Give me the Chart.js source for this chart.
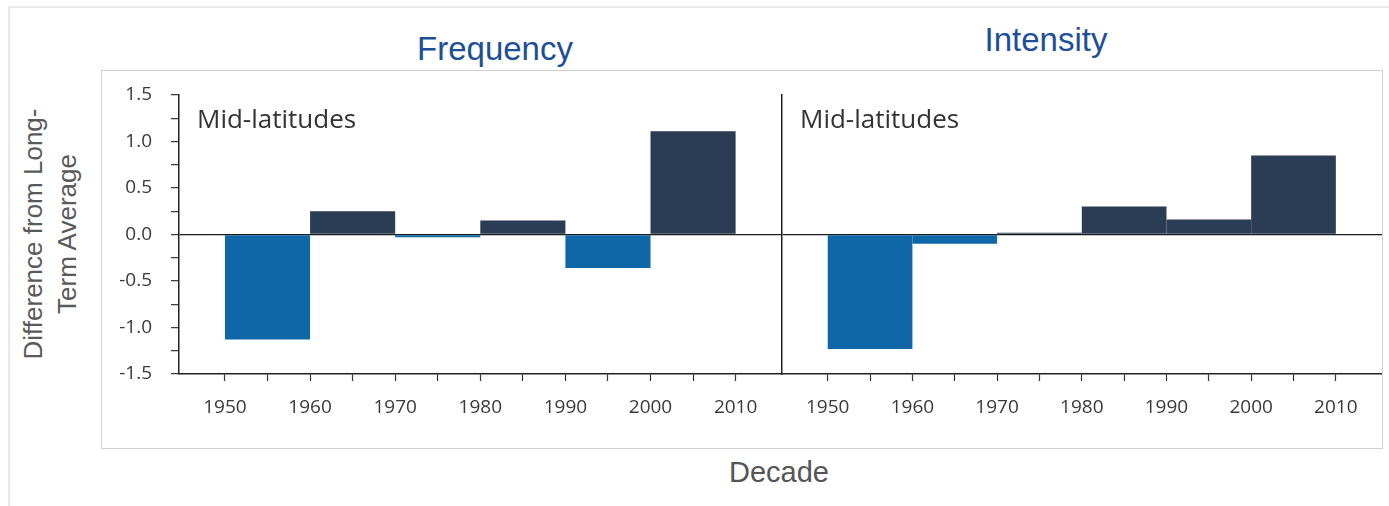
<!DOCTYPE html>
<html><head><meta charset="utf-8">
<script src="https://cdn.jsdelivr.net/npm/chart.js@4.4.1/dist/chart.umd.min.js"></script>
<style>
html,body{margin:0;padding:0;background:#fff;width:1389px;height:506px;overflow:hidden;position:relative;}
#outer{position:absolute;left:8px;top:6px;width:1400px;height:520px;border:2px solid #e8e8e8;box-sizing:border-box;}
#inner{position:absolute;left:101px;top:70px;width:1282px;height:379px;border:1px solid #d0d0d0;box-sizing:border-box;}
.t{position:absolute;font-family:'Liberation Sans',Arial,sans-serif;white-space:nowrap;line-height:1;}
.ttl{color:#1d4f98;font-size:33px;transform:translateX(-50%);}
#decade{color:#555;font-size:29px;left:779px;top:458px;transform:translateX(-50%);}
#ytitle{color:#5a5a5a;font-size:26px;line-height:34px;width:320px;height:68px;left:-110px;top:200px;text-align:center;transform:rotate(-90deg);}
.ml{position:absolute;font-family:'Open Sans',sans-serif;font-size:26px;color:#333;line-height:26px;white-space:nowrap;}
canvas{position:absolute;}
</style>
</head><body>
<div id="outer"></div>
<div id="inner"></div>
<canvas id="c1" width="691" height="378" style="left:101px;top:70px;width:691px;height:378px"></canvas>
<canvas id="c2" width="610" height="378" style="left:772px;top:70px;width:610px;height:378px"></canvas>
<div class="t ttl" id="t1" style="left:495px;top:32px">Frequency</div>
<div class="t ttl" id="t2" style="left:1046px;top:23px">Intensity</div>
<div class="t" id="decade">Decade</div>
<div class="t" id="ytitle">Difference from Long-<br>Term Average</div>
<div class="ml" style="left:197px;top:105px">Mid-latitudes</div>
<div class="ml" style="left:800px;top:105px">Mid-latitudes</div>
<script>
// ---- data ----
const decades = [1950, 1960, 1970, 1980, 1990, 2000];
const frequencyValues = [-1.13, 0.25, -0.03, 0.15, -0.36, 1.11];
const intensityValues = [-1.23, -0.10, 0.02, 0.30, 0.16, 0.85];
const xTickYears = [1950, 1955, 1960, 1965, 1970, 1975, 1980, 1985, 1990, 1995, 2000, 2005, 2010];
const yTickValues = [-1.5, -1.25, -1.0, -0.75, -0.5, -0.25, 0, 0.25, 0.5, 0.75, 1.0, 1.25, 1.5];
const panelTitles = ['Frequency', 'Intensity'];
const panelLabel = 'Mid-latitudes';

const NEG = '#0f67a7', POS = '#2b3d54', AXIS = '#222';
Chart.defaults.font.family = "'Open Sans', sans-serif";
Chart.defaults.color = '#3a3a3a';

function makeChart(id, values, showY, padding) {
  const data = decades.map((d, i) => ({ x: d + 5, y: values[i] }));
  return new Chart(document.getElementById(id), {
    type: 'bar',
    data: { datasets: [{
      data,
      backgroundColor: c => (c.raw && c.raw.y < 0) ? NEG : POS,
      borderWidth: 0,
      barPercentage: 1.0,
      // the ruler's minimum spacing is the 5-year tick step; bars span a full decade (2 steps)
      categoryPercentage: 2.0
    }]},
    options: {
      responsive: false, animation: false, devicePixelRatio: 1,
      layout: { padding, autoPadding: false },
      plugins: { legend: { display: false }, tooltip: { enabled: false } },
      scales: {
        x: {
          type: 'linear', min: 1944.6, max: 2015.45, offset: false,
          afterBuildTicks: s => { s.ticks = xTickYears.map(v => ({ value: v })); },
          afterFit: s => { s.height = 74; s.paddingLeft = 0; s.paddingRight = 0; },
          ticks: { autoSkip: false, maxRotation: 0, padding: 15, font: { size: 19 }, color: '#3a3a3a',
                   callback: v => (v % 10 === 0 ? String(v) : '') },
          grid: { offset: false, drawOnChartArea: false, drawTicks: true, tickLength: 7, tickColor: '#333', tickWidth: 1.2 },
          border: { display: true, color: AXIS, width: 1.5 }
        },
        y: {
          min: -1.5, max: 1.5,
          afterBuildTicks: s => { s.ticks = yTickValues.map(v => ({ value: v })); },
          afterFit: s => { s.width = showY ? 78 : 0; s.paddingTop = 0; s.paddingBottom = 0; },
          ticks: { display: showY, autoSkip: false, padding: 19, font: { size: 19 }, color: '#3a3a3a',
                   callback: v => (Math.abs(v * 2 - Math.round(v * 2)) < 1e-9 ? v.toFixed(1) : '') },
          grid: { drawOnChartArea: true, drawTicks: showY, tickLength: 8, tickColor: '#333', tickWidth: 1.2,
                  color: c => (c.tick && c.tick.value === 0 ? '#1a1a1a' : 'rgba(0,0,0,0)'), lineWidth: 1.3 },
          border: { display: true, color: AXIS, width: 1.5 }
        }
      }
    }
  });
}
makeChart('c1', frequencyValues, true, { top: 25, right: 10, left: 0, bottom: 0 });
makeChart('c2', intensityValues, false, { top: 25, right: 0, left: 10, bottom: 0 });
</script>
</body></html>
